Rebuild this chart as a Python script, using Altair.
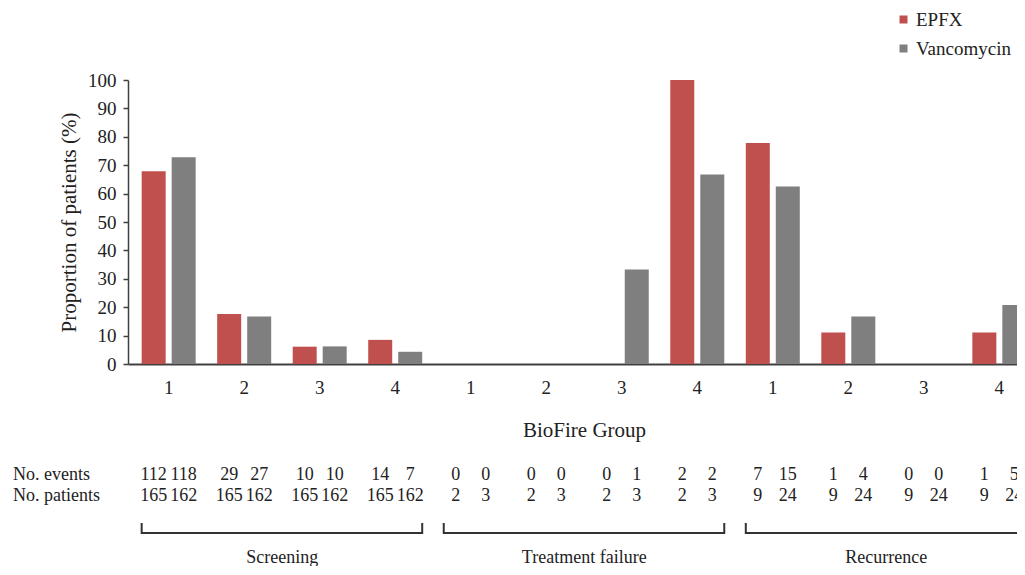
import altair as alt
import pandas as pd

phases = ["Screening", "Treatment failure", "Recurrence"]
biofire_groups = ["1", "2", "3", "4"]
treatments = ["EPFX", "Vancomycin"]
colors = ["#C0504D", "#7F7F7F"]

# proportion of patients (%) per phase x BioFire group
epfx_pct = [67.9, 17.6, 6.1, 8.5, 0, 0, 0, 100, 77.8, 11.1, 0, 11.1]
vanco_pct = [72.8, 16.7, 6.2, 4.3, 0, 0, 33.3, 66.7, 62.5, 16.7, 0, 20.8]
epfx_events = [112, 29, 10, 14, 0, 0, 0, 2, 7, 1, 0, 1]
epfx_patients = [165, 165, 165, 165, 2, 2, 2, 2, 9, 9, 9, 9]
vanco_events = [118, 27, 10, 7, 0, 0, 1, 2, 15, 4, 0, 5]
vanco_patients = [162, 162, 162, 162, 3, 3, 3, 3, 24, 24, 24, 24]

row_labels = ["No. events", "No. patients"]

FONT = "Liberation Serif"
TXT = "#222222"
AX = "#404040"

keys = []
rows = []
i = 0
for ph in phases:
    for g in biofire_groups:
        key = f"{ph}|{g}"
        keys.append(key)
        rows.append(dict(key=key, phase=ph, group=g, treatment="EPFX",
                         pct=epfx_pct[i], events=epfx_events[i], patients=epfx_patients[i]))
        rows.append(dict(key=key, phase=ph, group=g, treatment="Vancomycin",
                         pct=vanco_pct[i], events=vanco_events[i], patients=vanco_patients[i]))
        i += 1
df = pd.DataFrame(rows)

brackets = pd.DataFrame({
    "phase": phases,
    "start": [f"{ph}|1" for ph in phases],
    "mid": [f"{ph}|2" for ph in phases],
    "end": [f"{ph}|4" for ph in phases],
})
ev_lbl_df = pd.DataFrame({"label": [row_labels[0]]})
pt_lbl_df = pd.DataFrame({"label": [row_labels[1]]})

xscale = alt.Scale(domain=keys, range=[0, 912], paddingInner=0.285, paddingOuter=0.181)
xoff = alt.XOffset("treatment:N", sort=treatments,
                   scale=alt.Scale(domain=treatments, paddingInner=0.2, paddingOuter=0))

base = alt.Chart(df)

bars = base.mark_bar().encode(
    x=alt.X("key:N", sort=keys, scale=xscale,
            axis=alt.Axis(title="BioFire Group", labelExpr="split(datum.value, '|')[1]",
                          labelAngle=0, ticks=False, domainColor=AX, domainWidth=2,
                          labelFont=FONT, labelFontSize=19, labelColor=TXT, labelPadding=14,
                          titleFont=FONT, titleFontSize=21, titleFontWeight="normal",
                          titleColor=TXT, titlePadding=22)),
    xOffset=xoff,
    y=alt.Y("pct:Q", scale=alt.Scale(domain=[0, 100]),
            axis=alt.Axis(title="Proportion of patients (%)", values=list(range(0, 101, 10)),
                          grid=False, domainColor=AX, domainWidth=1.5, tickColor=AX,
                          tickSize=5, tickWidth=1.5, labelFont=FONT, labelFontSize=19,
                          labelColor=TXT, labelPadding=7, titleFont=FONT, titleFontSize=21,
                          titleFontWeight="normal", titleColor=TXT, titlePadding=8)),
    color=alt.Color("treatment:N", sort=treatments,
                    scale=alt.Scale(domain=treatments, range=colors),
                    legend=alt.Legend(title=None, orient="none", legendX=766, legendY=-70,
                                      symbolType="square", symbolSize=64, symbolStrokeWidth=0,
                                      labelFont=FONT, labelFontSize=19, labelColor=TXT,
                                      labelOffset=3, rowPadding=9)),
)

events_txt = base.mark_text(font=FONT, fontSize=18, color=TXT, baseline="alphabetic").encode(
    x=alt.X("key:N", sort=keys, scale=xscale),
    xOffset=xoff,
    y=alt.value(400),
    text="events:Q",
)
patients_txt = base.mark_text(font=FONT, fontSize=18, color=TXT, baseline="alphabetic").encode(
    x=alt.X("key:N", sort=keys, scale=xscale),
    xOffset=xoff,
    y=alt.value(421),
    text="patients:Q",
)

ev_lbl = alt.Chart(ev_lbl_df).mark_text(font=FONT, fontSize=18, color=TXT, align="left",
                                        baseline="alphabetic").encode(
    x=alt.value(-115), y=alt.value(400), text="label:N",
)
pt_lbl = alt.Chart(pt_lbl_df).mark_text(font=FONT, fontSize=18, color=TXT, align="left",
                                        baseline="alphabetic").encode(
    x=alt.value(-115), y=alt.value(421), text="label:N",
)

bk = alt.Chart(brackets)
bracket_h = bk.mark_rule(color="#333333", strokeWidth=2).encode(
    x=alt.X("start:N", sort=keys, scale=xscale, bandPosition=0),
    x2=alt.X2("end:N", bandPosition=1),
    y=alt.value(453),
)
bracket_l = bk.mark_rule(color="#333333", strokeWidth=2).encode(
    x=alt.X("start:N", sort=keys, scale=xscale, bandPosition=0),
    y=alt.value(443), y2=alt.value(454),
)
bracket_r = bk.mark_rule(color="#333333", strokeWidth=2).encode(
    x=alt.X("end:N", sort=keys, scale=xscale, bandPosition=1),
    y=alt.value(443), y2=alt.value(454),
)
phase_lbl = bk.mark_text(font=FONT, fontSize=18, color=TXT, baseline="alphabetic", dx=11).encode(
    x=alt.X("mid:N", sort=keys, scale=xscale, bandPosition=1),
    y=alt.value(483),
    text="phase:N",
)

chart = alt.layer(
    bars, events_txt, patients_txt, ev_lbl, pt_lbl, bracket_h, bracket_l, bracket_r, phase_lbl
).properties(
    width=889, height=284,
    autosize=alt.AutoSizeParams(type="none"),
    padding={"left": 120, "top": 72, "right": 0, "bottom": 202},
).configure(
    background="white", font=FONT
).configure_view(stroke="transparent", strokeOpacity=0, strokeWidth=0).configure_legend(
    labelFont=FONT, labelFontSize=19
)

chart.save("out.html", embed_options={"renderer": "svg", "actions": False})
